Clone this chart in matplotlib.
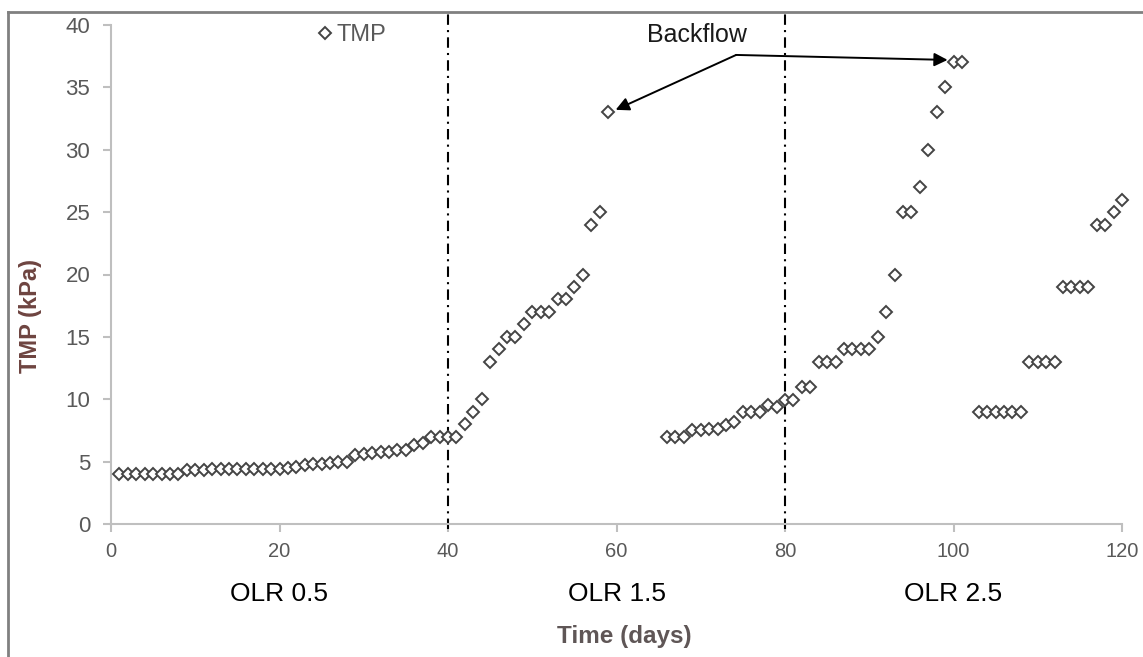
import matplotlib
matplotlib.use("Agg")
import matplotlib.pyplot as plt
from matplotlib.lines import Line2D

plt.rcParams['font.family'] = ['Liberation Sans', 'DejaVu Sans']

# TMP readings, one per day, grouped by run
days_a = list(range(1, 42))
tmp_a = [4.0, 4.0, 4.0, 4.0, 4.0, 4.0, 4.0, 4.0, 4.3, 4.3,
         4.3, 4.4, 4.4, 4.4, 4.4, 4.4, 4.4, 4.4, 4.4, 4.4,
         4.5, 4.6, 4.7, 4.8, 4.8, 4.9, 5.0, 5.0, 5.5, 5.6,
         5.7, 5.8, 5.8, 5.9, 5.9, 6.3, 6.5, 7.0, 7.0, 7.0,
         7.0]
days_b = list(range(42, 60))
tmp_b = [8.0, 9.0, 10.0, 13.0, 14.0, 15.0, 15.0, 16.0, 17.0, 17.0,
         17.0, 18.0, 18.0, 19.0, 20.0, 24.0, 25.0, 33.0]
days_c = list(range(66, 102))
tmp_c = [7.0, 7.0, 7.0, 7.5, 7.5, 7.6, 7.6, 7.9, 8.2, 9.0,
         9.0, 9.0, 9.5, 9.4, 9.9, 9.9, 11.0, 11.0, 13.0, 13.0,
         13.0, 14.0, 14.0, 14.0, 14.0, 15.0, 17.0, 20.0, 25.0, 25.0,
         27.0, 30.0, 33.0, 35.0, 37.0, 37.0]
days_d = list(range(103, 121))
tmp_d = [9.0, 9.0, 9.0, 9.0, 9.0, 9.0, 13.0, 13.0, 13.0, 13.0,
         19.0, 19.0, 19.0, 19.0, 24.0, 24.0, 25.0, 26.0]

days = days_a + days_b + days_c + days_d
tmp = tmp_a + tmp_b + tmp_c + tmp_d

olr_labels = ["OLR 0.5", "OLR 1.5", "OLR 2.5"]
olr_days = [20, 60, 100]
olr_bounds = [40, 80]

fig = plt.figure(figsize=(11.43, 6.57), dpi=100)
ax = fig.add_axes([111/1143, 1 - 524/657, (1122 - 111)/1143, (524 - 25)/657])

grey = '#bfbfbf'
ax.plot(days, tmp, linestyle='none', marker='D', ms=6.2, mfc='white',
        mec='#444444', mew=1.4, label='TMP', clip_on=False, zorder=3)

ax.set_xlim(0, 120)
ax.set_ylim(0, 40)
ax.set_xticks(range(0, 121, 20))
ax.set_yticks(range(0, 41, 5))
for s in ['top', 'right']:
    ax.spines[s].set_visible(False)
for s in ['left', 'bottom']:
    ax.spines[s].set_color(grey)
    ax.spines[s].set_linewidth(1.5)
ax.tick_params(colors=grey, labelcolor='#595959',
               length=6, width=1.5, direction='out')
ax.tick_params(axis='x', pad=7, labelsize=14.5)
ax.tick_params(axis='y', pad=9, labelsize=16)

# stage boundaries
for b in olr_bounds:
    ax.plot([b, b], [-0.4, 41.0], color='black', lw=1.5,
            dashes=(5, 2.5, 1, 2.5), clip_on=False, zorder=2)

# legend
ax.legend(loc='upper left', bbox_to_anchor=(0.195, 1.02), frameon=False,
          handlelength=0.6, handletextpad=0.2, fontsize=17,
          labelcolor='#595959', borderaxespad=0)

# backflow arrows
knee = (74.2, 37.6)
ax.annotate('', xy=(59.9, 33.2), xytext=knee, annotation_clip=False,
            arrowprops=dict(arrowstyle='-|>', color='black', lw=1.4,
                            mutation_scale=20, shrinkA=0, shrinkB=0))
ax.annotate('', xy=(99.3, 37.2), xytext=knee, annotation_clip=False,
            arrowprops=dict(arrowstyle='-|>', color='black', lw=1.4,
                            mutation_scale=20, shrinkA=0, shrinkB=0))
ax.text(69.5, 39.2, 'Backflow', ha='center', va='center', fontsize=18,
        color='#1a1a1a', clip_on=False)

# stage labels under the axis
for lbl, d in zip(olr_labels, olr_days):
    ax.text(d, -5.6, lbl, ha='center', va='center', fontsize=19, color='black')

fig.text(624/1143, 1 - 636/657, 'Time (days)', ha='center', va='center',
         fontsize=17.5, fontweight='bold', color='#5f5656')
fig.text(31/1143, 1 - 316/657, 'TMP (kPa)', ha='center', va='center',
         rotation=90, fontsize=17, fontweight='bold', color='#6e4440')

# outer frame (top and left edges visible)
fig.add_artist(Line2D([8/1143, 8/1143], [0, 1 - 12/657], color='#808080',
                      lw=2, transform=fig.transFigure))
fig.add_artist(Line2D([8/1143, 1], [1 - 12/657, 1 - 12/657], color='#808080',
                      lw=2, transform=fig.transFigure))

fig.savefig('out.png', dpi=100)
